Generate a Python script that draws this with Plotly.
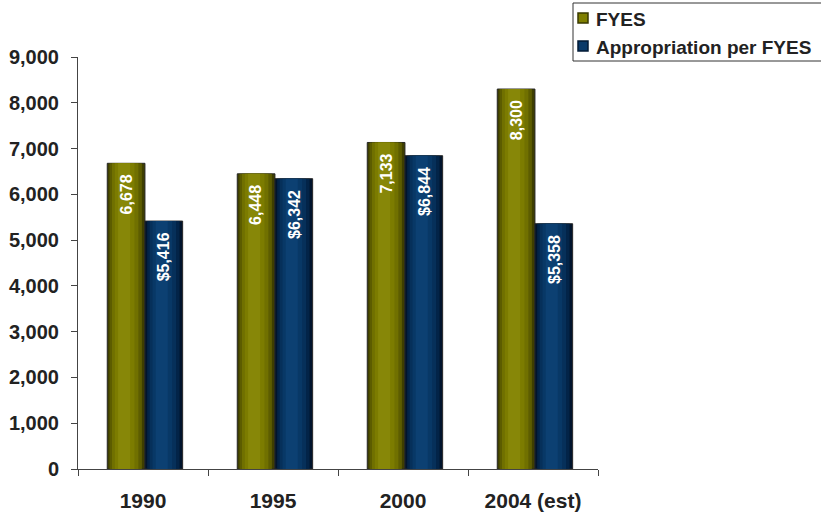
import plotly.graph_objects as go

years = ["1990", "1995", "2000", "2004 (est)"]
fyes = [6678, 6448, 7133, 8300]
appropriation = [5416, 6342, 6844, 5358]
series_names = ["FYES", "Appropriation per FYES"]

fyes_labels = [f"{v:,}" for v in fyes]
approp_labels = [f"${v:,}" for v in appropriation]

BAR_W = 0.29
SHIFT = 0.015
CAT_PX = 130  # pixel width of one category slot

# plot area in pixels (used to place the legend box in paper coordinates)
L, R, T, B, W, H = 78, 223, 57, 45, 821, 514
PW, PH = W - L - R, H - T - B


def px_x(px):
    return (px - L) / PW


def px_y(py):
    return (H - B - py) / PH


# shading bands for a cylinder-like look: (fraction of bar width, colour)
olive_bands = [(1.0, "#3e3e00"), (0.86, "#5c5c00"), (0.7, "#707000"),
               (0.52, "#7c7c00"), (0.32, "#878708")]
navy_bands = [(1.0, "#01142c"), (0.86, "#032448"), (0.7, "#06305a"),
              (0.52, "#083866"), (0.32, "#0c4072")]

fig = go.Figure()


def add_series(name, values, labels, offset, bands):
    for i, (frac, colour) in enumerate(bands):
        w = BAR_W * frac
        # highlight sits slightly left of centre
        centre = offset + BAR_W / 2 - (1 - frac) * BAR_W * 0.08
        fig.add_trace(go.Bar(
            x=years, y=values, name=name,
            width=[w] * len(values), offset=[centre - w / 2] * len(values),
            marker=dict(color=colour,
                        line=dict(color="#262626" if i == 0 else colour,
                                  width=1 if i == 0 else 0)),
            showlegend=False, hoverinfo="skip",
        ))
    # rotated value labels just under each bar top (x given as category index)
    for idx, (v, t) in enumerate(zip(values, labels)):
        fig.add_annotation(
            x=idx, y=v, xref="x", yref="y", text=f"<b>{t}</b>",
            textangle=-90, showarrow=False,
            xanchor="center", yanchor="top",
            xshift=(offset + BAR_W / 2) * CAT_PX, yshift=-9,
            font=dict(family="Arial", size=16, color="white"),
        )


add_series(series_names[0], fyes, fyes_labels, -BAR_W + SHIFT, olive_bands)
add_series(series_names[1], appropriation, approp_labels, SHIFT, navy_bands)

# legend box, swatches and entries
fig.add_shape(type="rect", xref="paper", yref="paper",
              x0=px_x(573), x1=px_x(840), y0=px_y(61), y1=px_y(3),
              line=dict(color="#333333", width=1), fillcolor="white", layer="above")
swatches = [("#7f7f00", "#3a3a00"), ("#0a3a6a", "#021a36")]
for k, (name, (fill, edge)) in enumerate(zip(series_names, swatches)):
    cy = 18 + k * 28
    fig.add_shape(type="rect", xref="paper", yref="paper",
                  x0=px_x(578), x1=px_x(588), y0=px_y(cy + 5), y1=px_y(cy - 5),
                  line=dict(color=edge, width=1.5), fillcolor=fill, layer="above")
    fig.add_annotation(x=px_x(594), y=px_y(cy + 1), xref="paper", yref="paper",
                       text=f"<b>{name}</b>", showarrow=False,
                       xanchor="left", yanchor="middle",
                       font=dict(family="Arial", size=19, color="#222222"))

fig.update_layout(
    width=W, height=H,
    barmode="overlay", showlegend=False,
    paper_bgcolor="white", plot_bgcolor="white",
    margin=dict(l=L, r=R, t=T, b=B, autoexpand=False),
    font=dict(family="Arial", color="#222222"),
)

fig.update_xaxes(
    type="category", categoryorder="array", categoryarray=years,
    range=[-0.5, len(years) - 0.5], autorange=False,
    tickson="boundaries", tickangle=0,
    ticks="outside", ticklen=6, tickcolor="#444444",
    showline=True, linecolor="#444444", linewidth=1,
    tickfont=dict(family="Arial", size=21, color="#222222", weight="bold"),
    ticklabelstandoff=13,
    showgrid=False,
)
fig.update_yaxes(
    range=[0, 9000], autorange=False, dtick=1000, tickformat=",",
    ticks="outside", ticklen=6, tickcolor="#444444",
    showline=True, linecolor="#444444", linewidth=1,
    tickfont=dict(family="Arial", size=20, color="#222222", weight="bold"),
    ticklabelstandoff=8,
    showgrid=False, zeroline=False,
)

fig.write_html("out.html")
